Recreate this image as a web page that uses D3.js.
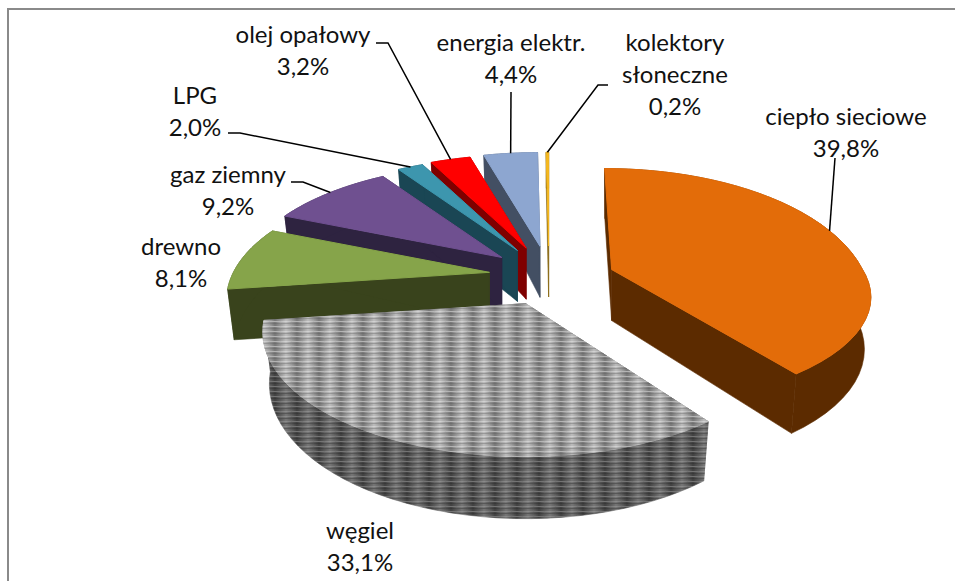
<!DOCTYPE html>
<html>
<head>
<meta charset="utf-8">
<script src="https://cdn.jsdelivr.net/npm/d3@7"></script>
<style>
  body { margin: 0; background: #fff; }
  text { font-family: Lato, sans-serif; font-size: 24px; fill: #111; text-anchor: middle; }
</style>
</head>
<body>
<script>
// values, percent of the total
const categories = ['ciepło sieciowe', 'węgiel', 'drewno', 'gaz ziemny', 'LPG', 'olej opałowy', 'energia elektr.', 'kolektory słoneczne'];
const shares = [39.8, 33.1, 8.1, 9.2, 2.0, 3.2, 4.4, 0.2];

// colours of each slice, top face and side walls
const topColors = ['#e36c09', 'url(#coalTop)', '#86a44a', '#6f5090', '#3d96ae', '#ff0000', '#8da6d0', '#f5b81f'];
const sideColors = ['#5c2b00', 'url(#coalSide)', '#39431c', '#2e2340', '#1a4654', '#7f0000', '#434f63', '#8a6a15'];

// label placement, one entry per category: text centre, first baseline, leader start
const labelX = [846, 360, 181, 228, 195, 303, 511, 675];
const labelY = [125, 539, 255, 183, 104, 43, 51, 51];
const labelLines = [['ciepło sieciowe'], ['węgiel'], ['drewno'], ['gaz ziemny'], ['LPG'], ['olej opałowy'], ['energia elektr.'], ['kolektory', 'słoneczne']];
const leaders = [
  [[835, 158]],
  null,
  null,
  [[291, 182], [303, 182]],
  [[228, 133], [240, 133]],
  [[376, 43], [388, 43]],
  [[511, 92]],
  [[608, 85], [598, 85]]
];

const w = 955;
const h = 581;

// pie geometry
const cx = 549, cy = 276;      // centre before the slices are pulled out
const explodeY = 30;
const radius = 256;
const tilt = 0.482;            // squash of the circle
const persp = 0.24;            // far side smaller, near side bigger
const lineGap = 32;
const apexDepth = 51;

const svg = d3.select('body').append('svg')
  .attr('width', w)
  .attr('height', h)
  .style('display', 'block');

// striped fill of the coal slice
const defs = svg.append('defs');
const addPattern = (id, light, dark, lineLight, lineDark) => {
  const grad = defs.append('linearGradient').attr('id', id + 'Band');
  grad.append('stop').attr('offset', '0%').attr('stop-color', light);
  grad.append('stop').attr('offset', '50%').attr('stop-color', dark);
  grad.append('stop').attr('offset', '100%').attr('stop-color', light);
  const p = defs.append('pattern').attr('id', id)
    .attr('patternUnits', 'userSpaceOnUse')
    .attr('width', 22).attr('height', 5);
  p.append('rect').attr('width', 22).attr('height', 5).attr('fill', `url(#${id}Band)`);
  p.append('path').attr('d', 'M0 1.5 Q5.5 1 11 1.5 T22 1.5').attr('fill', 'none').attr('stroke', lineLight).attr('stroke-width', 1).attr('opacity', 0.55);
  p.append('path').attr('d', 'M0 3.5 Q5.5 3 11 3.5 T22 3.5').attr('fill', 'none').attr('stroke', lineDark).attr('stroke-width', 1).attr('opacity', 0.35);
};
addPattern('coalTop', '#bdbdbd', '#777777', '#e4e4e4', '#555555');
addPattern('coalSide', '#767676', '#404040', '#9a9a9a', '#222222');

// frame, only top and left show up in the picture
svg.append('path')
  .attr('d', `M8 ${h}V9H${w}`)
  .attr('fill', 'none')
  .attr('stroke', '#8a8a8a')
  .attr('stroke-width', 2);

const arcs = d3.pie().sort(null)(shares);

// 1 for the slice pulled to the right, 0 for the rest. that one sits a bit
// differently in the source so it gets its own small correction
const rightFit = d => Math.sin((d.startAngle + d.endAngle) / 2) > 0.5 ? 1 : 0;

const apex = d => {
  const mid = (d.startAngle + d.endAngle) / 2;
  const fit = rightFit(d);
  return [cx + (60 + 6 * fit) * Math.sin(mid), cy - explodeY * Math.cos(mid) + 3 * fit];
};
// point on the upper rim of a slice
const rim = (d, a) => {
  const [ax, ay] = apex(d);
  const fit = rightFit(d);
  const c = Math.cos(a);
  const s = 1 - persp * c;
  const yFit = 1 + fit * (c > 0 ? 0.077 : -0.115);
  return [
    ax + radius * s * Math.sin(a) * (1 - 0.02 * fit) - 7 * fit * c,
    ay - radius * tilt * s * c * yFit
  ];
};
// same point on the lower rim
const lowRim = (d, a) => {
  const [ax] = apex(d);
  const [x, y] = rim(d, a);
  const c = Math.cos(a);
  return [ax + (x - ax) * 0.975, y + 49 - 13 * c + 14 * rightFit(d) * Math.max(c, 0)];
};
const lowApex = d => [apex(d)[0], apex(d)[1] + apexDepth];

const line = d3.line();

const rimAngles = d => d3.range(0, 41).map(i => d.startAngle + (d.endAngle - d.startAngle) * i / 40);

// the three side shapes of a slice: two cut faces and the outer wall
const sideShapes = d => {
  const as = rimAngles(d);
  return [
    [apex(d), rim(d, d.startAngle), lowRim(d, d.startAngle), lowApex(d)],
    [apex(d), rim(d, d.endAngle), lowRim(d, d.endAngle), lowApex(d)],
    as.map(a => rim(d, a)).concat(as.slice().reverse().map(a => lowRim(d, a)))
  ];
};

// back slices first, the coal and heat slices cover them
const slices = svg.selectAll('.slice')
  .data(arcs.slice().reverse())
  .enter()
    .append('g')
    .classed('slice', true);

// thin stroke in the same colour hides the seams between the shapes
slices.selectAll('.side')
  .data(d => sideShapes(d).map(pts => ({ pts, index: d.index })))
  .enter()
    .append('path')
    .classed('side', true)
    .attr('fill', d => sideColors[d.index])
    .attr('stroke', d => sideColors[d.index])
    .attr('stroke-width', 0.6)
    .attr('d', d => line(d.pts) + 'Z');

// top face, stroked so the dark wall behind it does not peek out
slices.append('path')
  .attr('fill', d => topColors[d.index])
  .attr('stroke', d => topColors[d.index])
  .attr('stroke-width', 1)
  .attr('d', d => line([apex(d)].concat(rimAngles(d).map(a => rim(d, a)))) + 'Z');

// leader lines end on the rim at the middle of the slice
arcs.forEach(d => {
  const start = leaders[d.index];
  if (!start) return;
  svg.append('path')
    .attr('fill', 'none')
    .attr('stroke', '#000')
    .attr('stroke-width', 1.5)
    .attr('d', line(start.concat([rim(d, (d.startAngle + d.endAngle) / 2)])));
});

// labels
const pct = d3.formatLocale({ decimal: ',', thousands: ' ', grouping: [3], currency: ['', ''] }).format('.1f');
categories.forEach((c, i) => {
  const rows = labelLines[i].concat([pct(shares[i]) + '%']);
  rows.forEach((t, j) => {
    svg.append('text')
      .attr('x', labelX[i])
      .attr('y', labelY[i] + j * lineGap)
      .text(t);
  });
});
</script>
</body>
</html>
